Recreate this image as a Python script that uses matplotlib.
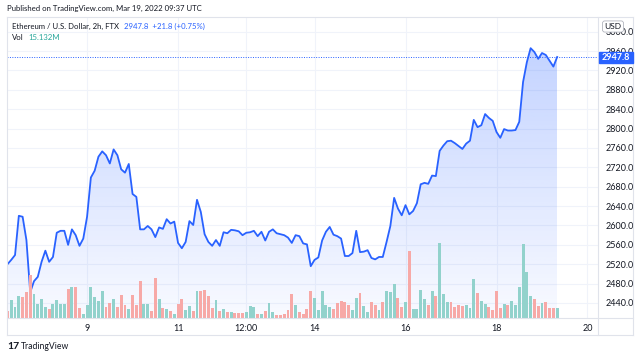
import numpy as np
import pandas as pd
import matplotlib
matplotlib.use("Agg")
import matplotlib.pyplot as plt
import matplotlib.dates as mdates
from matplotlib.patches import Rectangle
from matplotlib.lines import Line2D

plt.rcParams['font.family'] = ['Lato', 'DejaVu Sans']

# 2h candles, ETH/USD on FTX
times = pd.date_range("2022-03-07 06:00", periods=146, freq="2h")

close = [2520, 2529, 2539, 2620, 2618, 2570, 2462, 2485, 2494, 2525,
         2548, 2525, 2535, 2585, 2589, 2589, 2560, 2592, 2580, 2558,
         2573, 2618, 2699, 2713, 2742, 2753, 2745, 2728, 2757, 2745,
         2716, 2709, 2727, 2665, 2659, 2592, 2592, 2599, 2592, 2576,
         2596, 2593, 2613, 2604, 2608, 2564, 2553, 2566, 2609, 2601,
         2653, 2628, 2582, 2566, 2558, 2570, 2558, 2586, 2584, 2591,
         2590, 2588, 2580, 2585, 2586, 2589, 2578, 2587, 2569, 2587,
         2592, 2584, 2582, 2580, 2575, 2564, 2580, 2578, 2563, 2561,
         2516, 2529, 2534, 2569, 2587, 2597, 2581, 2578, 2573, 2537,
         2537, 2543, 2589, 2545, 2546, 2549, 2533, 2530, 2535, 2535,
         2566, 2599, 2657, 2635, 2621, 2642, 2623, 2630, 2646, 2685,
         2688, 2686, 2703, 2702, 2754, 2765, 2774, 2775, 2770, 2764,
         2758, 2769, 2775, 2818, 2803, 2807, 2830, 2822, 2816, 2793,
         2781, 2799, 2796, 2796, 2797, 2814, 2896, 2937, 2966, 2958,
         2944, 2956, 2952, 2940, 2928, 2947.8]

# volume in millions
volume = [10.8, 26.1, 15.7, 32.3, 30.8, 38.0, 61.8, 34.2, 20.0, 27.5,
          16.6, 13.7, 20.8, 26.1, 20.8, 20.4, 41.8, 45.1, 44.2, 14.3,
          6.6, 19.0, 45.1, 30.8, 25.1, 39.0, 15.7, 21.4, 27.1, 16.6,
          32.8, 18.6, 13.7, 33.7, 19.0, 53.2, 20.4, 20.4, 10.8, 57.9,
          27.1, 14.7, 13.3, 10.0, 6.1, 20.0, 27.1, 11.8, 18.0, 10.8,
          39.0, 39.0, 40.8, 32.3, 14.3, 25.7, 10.4, 13.3, 9.4, 9.4,
          8.0, 7.1, 7.1, 9.4, 17.6, 16.6, 5.7, 5.7, 10.4, 21.4,
          8.6, 4.3, 4.3, 6.1, 11.8, 34.7, 18.6, 9.4, 6.6, 13.3,
          39.4, 28.5, 11.4, 39.4, 18.6, 16.6, 13.7, 21.4, 25.1, 23.7,
          19.0, 11.8, 28.5, 35.7, 17.6, 9.4, 22.8, 19.0, 11.8, 23.3,
          39.4, 37.5, 48.9, 28.5, 16.1, 23.7, 96.5, 13.7, 13.3, 40.4,
          27.1, 19.0, 39.4, 31.8, 107.9, 34.7, 23.7, 23.3, 16.6, 18.6,
          18.0, 18.6, 14.3, 55.7, 36.5, 25.1, 20.4, 16.6, 11.8, 39.4,
          14.3, 20.4, 18.6, 25.1, 19.4, 44.2, 105.6, 66.5, 31.8, 27.5,
          17.6, 21.4, 22.8, 14.3, 15.1, 15.132]

# candle direction: g = up, r = down
direction = ("rgggrrrggg" "grggggrgrr" "ggggggrrgr" "rrgrrrggrr" "grgrgrrggr"
             "grrrrgrgrg" "rrrgggrgrg" "grrrrrgrrr" "rgggggrrrr" "rggrggrrgr"
             "gggrrgrggg" "grgrgggrrr" "rgggrggrrr" "rgrggggggr" "rgrrrg")

price_ticks = np.arange(2440, 3001, 40)
tick_dates = pd.to_datetime(["2022-03-09 00:00", "2022-03-11 00:00", "2022-03-12 12:00",
                             "2022-03-14 00:00", "2022-03-16 00:00", "2022-03-18 00:00",
                             "2022-03-20 00:00"])
tick_labels = ["9", "11", "12:00", "14", "16", "18", "20"]

last_price = 2947.8

W, H = 640, 358
fig = plt.figure(figsize=(W / 100, H / 100), dpi=100)
fig.patch.set_facecolor("white")


def fx(x):
    return x / W


def fy(y):
    return 1 - y / H


left, right, top, bottom = 6.7, 598.3, 16.7, 318.3
rect = [fx(left), fy(bottom), fx(right) - fx(left), fy(top) - fy(bottom)]

x = mdates.date2num(times)
xmin = mdates.date2num(pd.Timestamp("2022-03-07 05:36"))
xmax = mdates.date2num(pd.Timestamp("2022-03-20 05:42"))
ybot, ytop = 2408.4, 3031

# price pane (grid + area + line)
ax = fig.add_axes(rect)
ax.set_facecolor("none")

grid_c = "#f0f3fa"
for p in price_ticks:
    ax.axhline(p, color=grid_c, lw=0.8, zorder=0)
for t in tick_dates:
    ax.axvline(mdates.date2num(t), color=grid_c, lw=0.8, zorder=0)

# gradient area under the line
poly = ax.fill_between(x, close, ybot, color="none", lw=0)
grad = np.linspace(0.28, 0.03, 256).reshape(-1, 1)
rgba = np.zeros((256, 1, 4))
rgba[..., 0] = 41 / 255
rgba[..., 1] = 98 / 255
rgba[..., 2] = 1.0
rgba[..., 3] = grad
im = ax.imshow(rgba, aspect="auto", extent=[x[0], x[-1], ybot, max(close)],
               zorder=1, interpolation="bilinear")
im.set_clip_path(poly.get_paths()[0], transform=ax.transData)

ax.plot(x, close, color="#2962ff", lw=1.3, zorder=4)
ax.axhline(last_price, color="#2962ff", lw=0.7, ls=(0, (1, 1.5)), zorder=4)
ax.set_xlim(xmin, xmax)
ax.set_ylim(ybot, ytop)

for s in ax.spines.values():
    s.set_visible(False)
ax.yaxis.tick_right()
ax.set_yticks(price_ticks)
ax.set_yticklabels([f"{p:.1f}" for p in price_ticks])
ax.tick_params(axis="y", length=0, pad=5, labelsize=6.5, colors="#131722")
ax.set_xticks(mdates.date2num(tick_dates))
ax.set_xticklabels(tick_labels)
ax.tick_params(axis="x", length=0, pad=4, labelsize=6.5, colors="#131722")

# volume pane on top
axv = fig.add_axes(rect)
axv.set_facecolor("none")
cols = ["#92d2cc" if d == "g" else "#f7a9a7" for d in direction]
axv.bar(x, volume, width=0.064, color=cols, zorder=3)
axv.set_xlim(xmin, xmax)
axv.set_ylim(0, 430.4)
axv.axis("off")

# frame lines
frame_c = "#e0e3eb"
for (x0, y0, x1, y1) in [(left, top, 633, top), (left, bottom, 633, bottom),
                         (left, 335, 633, 335), (left, top, left, 335),
                         (right, top, right, 335), (633, top, 633, 335)]:
    fig.add_artist(Line2D([fx(x0), fx(x1)], [fy(y0), fy(y1)], color=frame_c, lw=0.8))

# last price label
fig.add_artist(Rectangle((fx(598.5), fy(62.7)), fx(633) - fx(598.5), fy(51.7) - fy(62.7),
                         color="#2962ff", zorder=5))
fig.text(fx(616), fy(57.2), f"{last_price:.1f}", color="white", fontsize=6.5,
         fontweight="bold", ha="center", va="center", zorder=6)

# USD badge
fig.text(fx(613), fy(26.5), "USD", fontsize=6, color="#131722", ha="center", va="center",
         zorder=7, bbox=dict(boxstyle="round,pad=0.25,rounding_size=0.3", fc="white",
                             ec="#b2b5be", lw=0.6))

# header texts
fs = 5.6
fig.text(fx(7), fy(8), "Published on TradingView.com, Mar 19, 2022 09:37 UTC",
         fontsize=fs, color="#131722", va="center")
t1 = fig.text(fx(12), fy(26), "Ethereum / U.S. Dollar, 2h, FTX", fontsize=fs,
              color="#131722", va="center")
fig.canvas.draw()
x_end = t1.get_window_extent().x1
fig.text(fx(x_end + 5), fy(26), "2947.8  +21.8 (+0.75%)", fontsize=fs,
         color="#2962ff", va="center")
t2 = fig.text(fx(12), fy(37), "Vol", fontsize=fs, color="#131722", va="center")
fig.canvas.draw()
fig.text(fx(t2.get_window_extent().x1 + 5), fy(37), "15.132M", fontsize=fs,
         color="#26a69a", va="center")

# footer logo
fig.text(fx(7), fy(346.5), "17", fontsize=7.5, fontweight="bold", color="#131722", va="center")
fig.text(fx(21), fy(346.5), "TradingView", fontsize=6.2, color="#131722", va="center")

fig.savefig("out.png", dpi=100, facecolor="white")
